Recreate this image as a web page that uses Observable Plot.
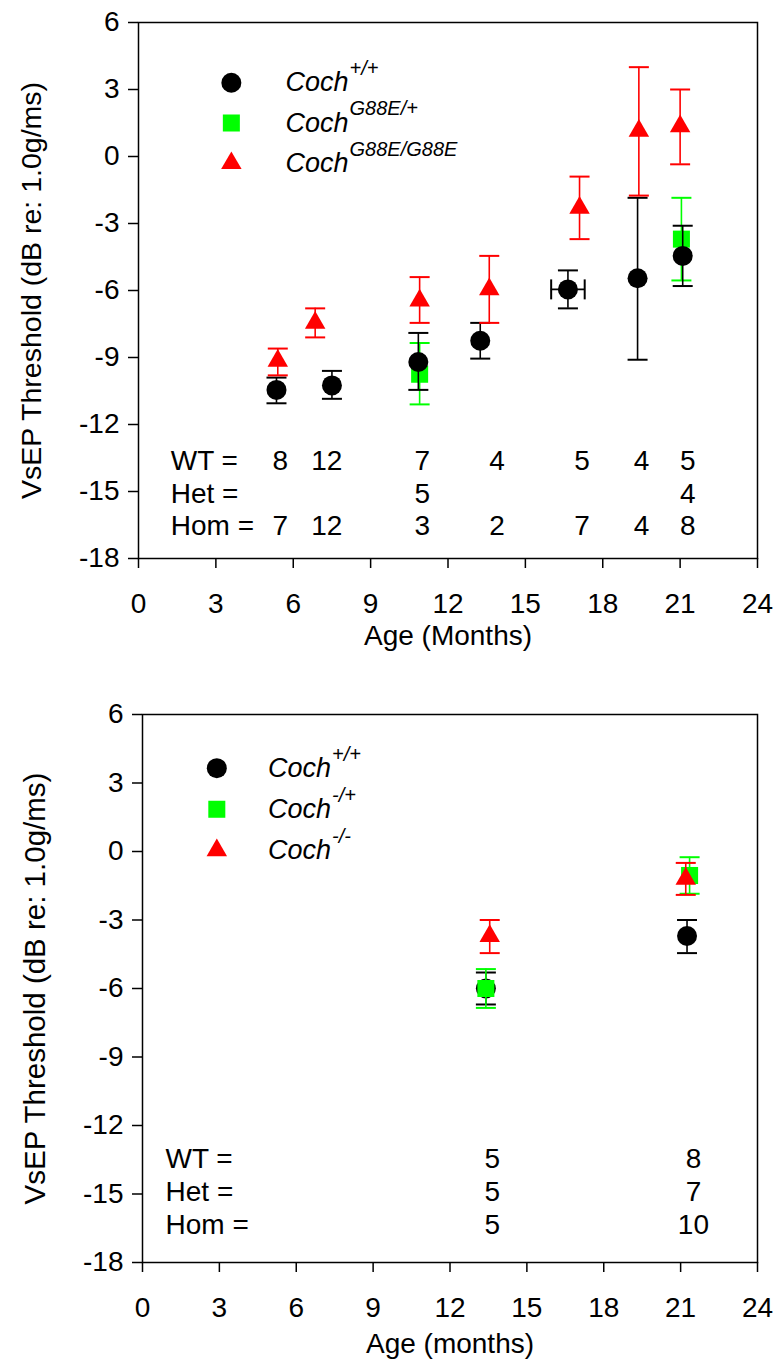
<!DOCTYPE html>
<html><head><meta charset="utf-8">
<script src="https://cdn.jsdelivr.net/npm/d3@7"></script>
<script src="https://cdn.jsdelivr.net/npm/@observablehq/plot@0.6"></script>
<style>
body{margin:0;background:#fff;}
#chart svg{display:block;}
</style></head><body><div id="chart"></div>
<script>
// ---------- DATA: top panel (G88E) ----------
const topWtAge  = [5.35, 7.5, 10.85, 13.25, 16.65, 19.35, 21.1];
const topWtMean = [-10.45, -10.25, -9.2, -8.25, -5.95, -5.45, -4.45];
const topWtLo   = [-11.05, -10.85, -10.45, -9.05, -6.8, -9.1, -5.8];
const topWtHi   = [-9.9, -9.6, -7.9, -7.45, -5.1, -1.85, -3.1];
const topWtAgeErrAge = [16.65];
const topWtAgeErrY   = [-5.95];
const topWtAgeErrLo  = [16.0];
const topWtAgeErrHi  = [17.3];

const topHetAge  = [10.9, 21.05];
const topHetMean = [-9.75, -3.7];
const topHetLo   = [-11.1, -5.55];
const topHetHi   = [-8.35, -1.85];

const topHomAge  = [5.4, 6.85, 10.9, 13.6, 17.1, 19.4, 21.0];
const topHomMean = [-9.15, -7.45, -6.45, -5.95, -2.3, 1.15, 1.35];
const topHomLo   = [-9.8, -8.1, -7.45, -7.45, -3.7, -1.75, -0.35];
const topHomHi   = [-8.6, -6.8, -5.4, -4.45, -0.9, 4.0, 3.0];

const topCountAge = [5.5, 7.3, 11.0, 13.9, 17.2, 19.5, 21.3];
const topCountWT  = ["8", "12", "7", "4", "5", "4", "5"];
const topCountHet = ["", "", "5", "", "", "", "4"];
const topCountHom = ["7", "12", "3", "2", "7", "4", "8"];
const topLegendSup = ["+/+", "G88E/+", "G88E/G88E"];

// ---------- DATA: bottom panel (knockout) ----------
const botWtAge  = [13.4, 21.25];
const botWtMean = [-6.0, -3.7];
const botWtLo   = [-6.7, -4.45];
const botWtHi   = [-5.3, -3.0];

const botHetAge  = [13.4, 21.35];
const botHetMean = [-6.0, -1.05];
const botHetLo   = [-6.85, -1.85];
const botHetHi   = [-5.15, -0.25];

const botHomAge  = [13.55, 21.2];
const botHomMean = [-3.7, -1.2];
const botHomLo   = [-4.45, -1.9];
const botHomHi   = [-3.0, -0.5];

const botCountAge = [13.65, 21.5];
const botCountWT  = ["5", "8"];
const botCountHet = ["5", "7"];
const botCountHom = ["5", "10"];
const botLegendSup = ["+/+", "-/+", "-/-"];

const rowLabels = ["WT =", "Het =", "Hom ="];
const yTicks = [-18, -15, -12, -9, -6, -3, 0, 3, 6];
const xTicks = [0, 3, 6, 9, 12, 15, 18, 21, 24];
const yLabel = "VsEP Threshold (dB re: 1.0g/ms)";

// ---------- helpers ----------
const FONT = "'Liberation Sans', Arial, sans-serif";
const colors = {wt: "#000000", het: "#00ff00", hom: "#ff0000"};
const symbols = {wt: "circle", het: "square", hom: "triangle"};
const sizes = {wt: 10, het: 9.6, hom: 7.6};
const hCap = {draw(c, s) { const r = Math.sqrt(s / Math.PI); c.moveTo(-r, 0); c.lineTo(r, 0); }};
const vCap = {draw(c, s) { const r = Math.sqrt(s / Math.PI); c.moveTo(0, -r); c.lineTo(0, r); }};

function pts(age, mean, lo, hi) {
  return age.map((x, i) => ({x, y: mean[i], lo: lo[i], hi: hi[i]}));
}
function errMarks(data, key) {
  const color = colors[key];
  return [
    Plot.ruleX(data, {x: "x", y1: "lo", y2: "hi", stroke: color, strokeWidth: 1.6}),
    Plot.dot(data, {x: "x", y: "lo", symbol: hCap, r: 10, stroke: color, strokeWidth: 2, fill: "none"}),
    Plot.dot(data, {x: "x", y: "hi", symbol: hCap, r: 10, stroke: color, strokeWidth: 2, fill: "none"}),
    Plot.dot(data, {x: "x", y: "y", symbol: symbols[key], r: sizes[key], fill: color, stroke: "none"})
  ];
}
function countMarks(ages, rows, rowY, labelX) {
  const marks = [];
  rows.forEach((vals, j) => {
    marks.push(Plot.text([rowLabels[j]], {x: () => labelX, y: () => rowY[j], text: d => d,
      textAnchor: "start", fontSize: 28, fill: "black"}));
    marks.push(Plot.text(ages.map((a, i) => ({a, t: vals[i]})).filter(d => d.t !== ""),
      {x: "a", y: () => rowY[j], text: "t", fontSize: 28, fill: "black"}));
  });
  return marks;
}
function legendMarks(sups, symX, textX, topY, step) {
  const keys = ["wt", "het", "hom"];
  const L = keys.map((k, i) => ({k, sup: sups[i], y: topY - i * step}));
  return [
    ...L.map(d => Plot.dot([d], {x: () => symX, y: "y", symbol: symbols[d.k], r: sizes[d.k], fill: colors[d.k]})),
    Plot.text(L, {x: () => textX, y: "y", text: () => "Coch", textAnchor: "start", fontSize: 27, fontStyle: "italic", fill: "black"}),
    Plot.text(L, {x: () => textX, y: "y", text: "sup", textAnchor: "start", fontSize: 20, fontStyle: "italic", dx: 64, dy: -14, fill: "black"})
  ];
}
function makePlot({height, marginTop, marginBottom, marginLeft, xLabel, xLabelOffset, yLabelSize, marks}) {
  return Plot.plot({
    width: 773, height, marginTop, marginBottom, marginLeft, marginRight: 16,
    style: {fontFamily: FONT, fontSize: "28px", background: "white", color: "black", overflow: "visible"},
    x: {domain: [0, 24]},
    y: {domain: [-18, 6]},
    marks: [
      Plot.axisY({ticks: yTicks, tickSize: 10, tickPadding: 9, tickFormat: d => String(d), fontSize: 28,
        label: null, strokeWidth: 1.5}),
      Plot.axisY({ticks: [], tickSize: 0, label: yLabel, labelAnchor: "center", labelArrow: "none",
        labelOffset: 118, fontSize: yLabelSize}),
      Plot.axisX({ticks: xTicks, tickSize: 10, tickPadding: 25, tickFormat: d => String(d), fontSize: 28,
        label: xLabel, labelAnchor: "center", labelArrow: "none", labelOffset: xLabelOffset, strokeWidth: 1.5}),
      Plot.frame({stroke: "black", strokeWidth: 1.5}),
      ...marks
    ]
  });
}

const topPlot = makePlot({
  height: 665, marginTop: 22, marginBottom: 107, marginLeft: 138,
  xLabel: "Age (Months)", xLabelOffset: 86, yLabelSize: 28.5,
  marks: [
    ...errMarks(pts(topHetAge, topHetMean, topHetLo, topHetHi), "het"),
    Plot.ruleY(topWtAgeErrAge.map((a, i) => ({y: topWtAgeErrY[i], x1: topWtAgeErrLo[i], x2: topWtAgeErrHi[i]})),
      {y: "y", x1: "x1", x2: "x2", stroke: "black", strokeWidth: 1.6}),
    Plot.dot(topWtAgeErrAge.flatMap((a, i) => [{x: topWtAgeErrLo[i], y: topWtAgeErrY[i]}, {x: topWtAgeErrHi[i], y: topWtAgeErrY[i]}]),
      {x: "x", y: "y", symbol: vCap, r: 10, stroke: "black", strokeWidth: 2, fill: "none"}),
    ...errMarks(pts(topWtAge, topWtMean, topWtLo, topWtHi), "wt"),
    ...errMarks(pts(topHomAge, topHomMean, topHomLo, topHomHi), "hom"),
    ...countMarks(topCountAge, [topCountWT, topCountHet, topCountHom], [-13.65, -15.1, -16.55], 1.25),
    ...legendMarks(topLegendSup, 3.6, 5.7, 3.3, 1.8)
  ]
});

const botPlot = makePlot({
  height: 699, marginTop: 49, marginBottom: 102, marginLeft: 142,
  xLabel: "Age (months)", xLabelOffset: 90, yLabelSize: 29.5,
  marks: [
    ...errMarks(pts(botWtAge, botWtMean, botWtLo, botWtHi), "wt"),
    ...errMarks(pts(botHetAge, botHetMean, botHetLo, botHetHi), "het"),
    ...errMarks(pts(botHomAge, botHomMean, botHomLo, botHomHi), "hom"),
    ...countMarks(botCountAge, [botCountWT, botCountHet, botCountHom], [-13.45, -14.9, -16.35], 0.9),
    ...legendMarks(botLegendSup, 2.9, 4.9, 3.65, 1.8)
  ]
});

document.getElementById("chart").append(topPlot, botPlot);
</script>
</body></html>
